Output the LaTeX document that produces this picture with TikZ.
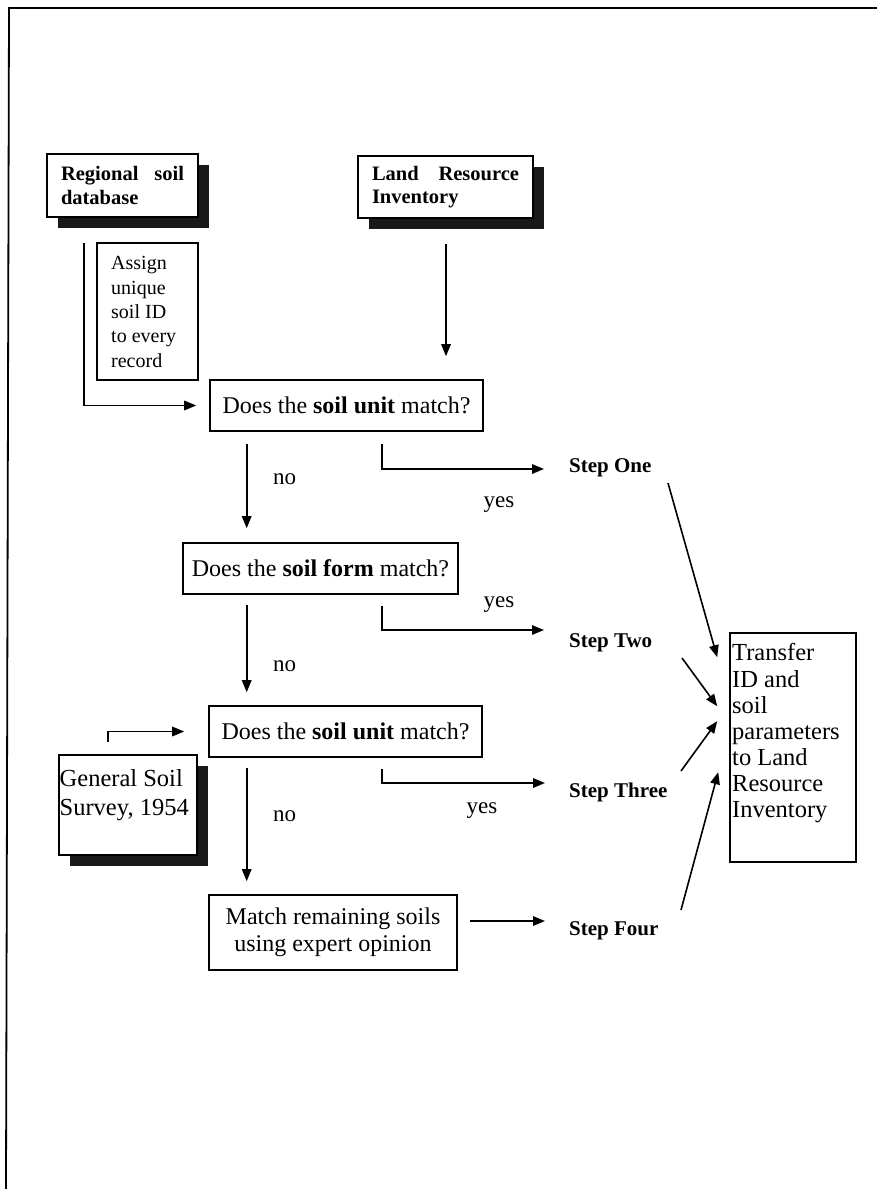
\documentclass[tikz,border=0pt]{standalone}
\usepackage{fontspec}
\setmainfont{Liberation Serif}
\usetikzlibrary{arrows.meta,calc,shadows}
\begin{document}
\begin{tikzpicture}[x=1pt,y=-1pt,
  box/.style={draw, fill=white, inner sep=0pt, line width=1.6pt},
  shbox/.style={box, drop shadow={shadow xshift=10.5pt, shadow yshift=-11pt, fill=black!90, opacity=1}},
  arr/.style={-{Triangle[length=12pt,width=9.5pt]}, line width=1.6pt},
  qfont/.style={font=\fontsize{24}{27}\selectfont},
  hdrfont/.style={font=\bfseries\fontsize{20.5}{23.5}\selectfont},
  stepfont/.style={font=\bfseries\fontsize{21}{25}\selectfont, inner sep=0pt},
  lblfont/.style={font=\fontsize{23}{26}\selectfont, inner sep=0pt},
  txt/.style={inner sep=0pt, align=left, anchor=north west}
]
\useasboundingbox (0,0) rectangle (877,1189);
\fill[white] (0,0) rectangle (877,1189);
% page frame
\draw[line width=1.8pt] (877,8) -- (9,8) -- (6,1189);

% source boxes
\node[shbox, hdrfont, align=left, minimum width=151pt, minimum height=63pt] (reg) at (122.5,185.5)
  {\makebox[123pt][s]{Regional soil}\\database};
\node[shbox, hdrfont, align=left, minimum width=175pt, minimum height=62pt] (land) at (445.5,187)
  {\makebox[147pt][s]{Land Resource}\\Inventory};

% assign box
\node[box, minimum width=101pt, minimum height=137pt] (assign) at (147.5,311.5) {};
\node[txt, font=\fontsize{20}{24.3}\selectfont] (assignt) at (111,256.5)
  {Assign\\unique\\soil ID\\to every\\record};

% question boxes
\node[box, qfont, minimum width=273pt, minimum height=51pt] (box1) at (346.5,405.5)
  {Does the \textbf{soil unit} match?};
\node[box, qfont, minimum width=275pt, minimum height=51pt] (box2) at (320.5,568.5)
  {Does the \textbf{soil form} match?};
\node[box, qfont, minimum width=273pt, minimum height=51pt] (box3) at (345.5,731.5)
  {Does the \textbf{soil unit} match?};
\node[box, qfont, align=center, minimum width=248pt, minimum height=75pt] (box4) at (333,932.5)
  {Match remaining soils\\using expert opinion};

% general soil survey
\node[shbox, minimum width=138pt, minimum height=100pt] (gss) at (128,805) {};
\node[txt, font=\fontsize{24.5}{29}\selectfont] (gsst) at (59.5,769.5)
  {General Soil\\Survey, 1954};

% transfer box
\node[box, minimum width=126pt, minimum height=229pt] (transfer) at (793,747.5) {};
\node[txt, font=\fontsize{24.5}{26.1}\selectfont] (transfert) at (732,643.5)
  {Transfer\\ID and\\soil\\parameters\\to Land\\Resource\\Inventory};

% step labels
\node[stepfont, anchor=base west] (step1) at (569,472) {Step One};
\node[stepfont, anchor=base west] (step2) at (569,647) {Step Two};
\node[stepfont, anchor=base west] (step3) at (569,797) {Step Three};
\node[stepfont, anchor=base west] (step4) at (569,935) {Step Four};

% yes / no labels
\node[lblfont] (yes1) at (499,505) {yes};
\node[lblfont] (yes2) at (499,604.5) {yes};
\node[lblfont] (yes3) at (482,811) {yes};
\node[lblfont] (no1) at (284.5,479) {no};
\node[lblfont] (no2) at (284.5,666) {no};
\node[lblfont] (no3) at (284.5,816) {no};

% connectors
\coordinate (regout) at (84,243);
\draw[arr] (regout) |- ($(box1.west)+(-13,0)$);
\draw[arr] ($(land.south)+(0.5,25)$) -- ($(land.south |- box1.north)+(0.5,-23)$);

\draw[arr] ($(box1.south west)+(37.5,12)$) -- ($(box2.north west)+(64.5,-14)$);
\draw[arr] ($(box2.south west)+(64.5,10)$) -- ($(box3.north west)+(38.5,-13)$);
\draw[arr] ($(box3.south west)+(38.5,10)$) -- ($(box4.north west)+(38.5,-13)$);

\draw[arr] ($(box1.south west)+(173,12)$) |- ($(step1.base west)+(-25,-3)$);
\draw[arr] ($(box2.south west)+(200,11)$) |- ($(step2.base west)+(-25,-17)$);
\draw[arr] ($(box3.south west)+(174,11)$) |- ($(step3.base west)+(-24,-14)$);
\draw[arr] ($(box4.east)+(12,-11.5)$) -- ($(step4.base west)+(-24,-14)$);

\draw[arr] ($(gss.north west)+(50,-12)$) |- ($(box3.west)+(-24,0)$);

\draw[arr] ($(step1.base west)+(99,11)$) -- ($(transfer.north west)+(-12,25)$);
\draw[arr] ($(step2.base west)+(113,11)$) -- ($(transfer.north west)+(-12,74)$);
\draw[arr] ($(step3.base west)+(112,-26)$) -- ($(transfer.north west)+(-12,89)$);
\draw[arr] ($(step4.base west)+(112,-25)$) -- ($(transfer.north west)+(-11,140)$);
\end{tikzpicture}
\end{document}
